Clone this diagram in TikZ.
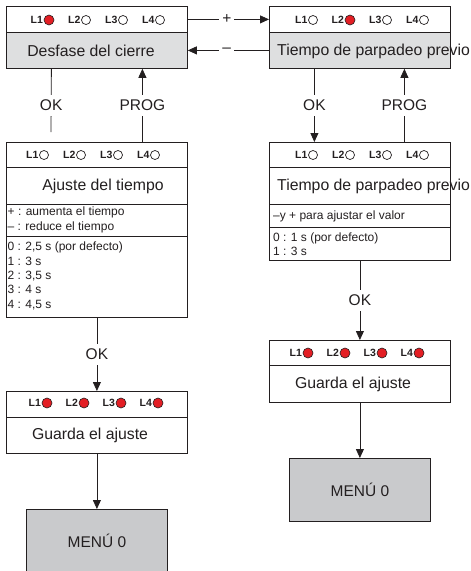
\documentclass[tikz,border=0pt]{standalone}
\usepackage{fontspec}
\setmainfont{Liberation Sans}
\usepackage{xcolor}
\usepackage{tikz}
\usetikzlibrary{arrows.meta}

\definecolor{ink}{HTML}{231F20}
\definecolor{paneg}{HTML}{DEDFE0}
\definecolor{menug}{HTML}{C9CACC}
\definecolor{ledred}{HTML}{E31E24}

\tikzset{
  panel/.style={draw=ink, line width=0.8pt, fill=white, inner sep=0pt,
    anchor=north west, minimum width=181pt},
  shaded/.style={panel, fill=paneg},
  menubox/.style={draw=ink, line width=0.8pt, fill=menug, anchor=north west,
    minimum width=141pt, minimum height=63pt, text=ink,
    font=\fontsize{15.5}{18}\selectfont},
  ledon/.style={circle, draw=ink, line width=0.6pt, fill=ledred, inner sep=0pt,
    minimum size=10pt},
  ledoff/.style={circle, draw=ink, line width=0.7pt, fill=white, inner sep=0pt,
    minimum size=9pt},
  ledtxt/.style={anchor=east, inner sep=0.6pt, text=ink,
    font=\bfseries\fontsize{10.5}{12}\selectfont},
  title/.style={text=ink, inner sep=0pt, font=\fontsize{15.8}{19}\selectfont},
  note/.style={anchor=west, align=left, inner sep=0pt, text=ink,
    font=\fontsize{12}{14.3}\selectfont},
  key/.style={fill=white, inner xsep=3pt, inner ysep=5pt, text=ink,
    font=\fontsize{15.5}{18}\selectfont},
  wire/.style={draw=ink, line width=0.8pt},
  flow/.style={wire, -{Triangle[length=9pt,width=8pt]}},
}

% row of four LEDs: name, first x, y, states
\newcommand{\ledbar}[4]{%
  \foreach \st [count=\i] in {#4}{
    \node[\st] (#1\i) at ({#2+37*(\i-1)},#3) {};
    \node[ledtxt] (#1t\i) at (#1\i.west) {L\i};
  }}

\begin{document}
\begin{tikzpicture}[x=1pt,y=-1pt]
  \useasboundingbox (0,0) rectangle (471,571);
  \clip (0,0) rectangle (471,571);

  % Desfase del cierre
  \node[panel, minimum height=26pt] (b1top) at (6,6) {};
  \node[shaded, minimum height=36pt] (b1bot) at (6,32) {};
  \node[title] (b1txt) at (91,51) {Desfase del cierre};
  \ledbar{la}{49}{20}{ledon,ledoff,ledoff,ledoff}

  % Tiempo de parpadeo previo
  \node[panel, minimum height=26pt] (b2top) at (269,6) {};
  \node[shaded, minimum height=36pt] (b2bot) at (269,32) {};
  \node[title, anchor=west] (b2txt) at (277,51) {Tiempo de parpadeo previo};
  \ledbar{lb}{313}{20}{ledoff,ledon,ledoff,ledoff}

  % Ajuste del tiempo
  \node[panel, minimum height=25pt] (b3top) at (6,142) {};
  \node[panel, minimum height=37pt] (b3mid) at (6,167) {};
  \node[panel, minimum height=32pt] (b3key) at (6,204) {};
  \node[panel, minimum height=81pt] (b3d) at (6,236) {};
  \node[title] (b3txt) at (103,186) {Ajuste del tiempo};
  \node[note] (b3n1) at (7.5,220) {+ : aumenta el tiempo\\-- : reduce el tiempo};
  \node[note] (b3n2) at (7.5,276) {0 : 2,5 s (por defecto)\\1 : 3 s\\2 : 3,5 s\\3 : 4 s\\4 : 4,5 s};
  \ledbar{lc}{44}{155}{ledoff,ledoff,ledoff,ledoff}

  % Tiempo de parpadeo previo, ajuste
  \node[panel, minimum height=25pt] (b4top) at (269,142) {};
  \node[panel, minimum height=37pt] (b4mid) at (269,167) {};
  \node[panel, minimum height=23pt] (b4key) at (269,204) {};
  \node[panel, minimum height=33pt] (b4d) at (269,227) {};
  \node[title, anchor=west] (b4txt) at (277,186) {Tiempo de parpadeo previo};
  \node[note] (b4n1) at (273,216) {--y + para ajustar el valor};
  \node[note] (b4n2) at (273,244.5) {0 : 1 s (por defecto)\\1 : 3 s};
  \ledbar{ld}{313}{155}{ledoff,ledoff,ledoff,ledoff}

  % Guarda el ajuste
  \node[panel, minimum height=26pt] (b5top) at (6,391) {};
  \node[panel, minimum height=36pt] (b5bot) at (6,417) {};
  \node[title] (b5txt) at (90,435) {Guarda el ajuste};
  \ledbar{le}{47}{403}{ledon,ledon,ledon,ledon}

  \node[panel, minimum height=25pt] (b6top) at (269,340) {};
  \node[panel, minimum height=37pt] (b6bot) at (269,365) {};
  \node[title] (b6txt) at (353,384) {Guarda el ajuste};
  \ledbar{lf}{308}{353}{ledon,ledon,ledon,ledon}

  % MENU 0
  \node[menubox] (menuA) at (26,509) {MENÚ 0};
  \node[menubox] (menuB) at (289,458) {MENÚ 0};

  % connectors
  \coordinate (okend) at (51,132);
  \draw[flow] (b1top.east) -- node[key, pos=.48] (plus) {+} (b2top.west);
  \draw[flow] (b2bot.west) -- node[key, pos=.52] (minus) {--} (b1bot.east);
  \draw[wire] ([xshift=-45.5pt]b1bot.south) -- node[key, pos=.58] (ok1) {OK} (okend);
  \draw[flow] ([xshift=45.5pt]b3top.north) -- node[key] (prog1) {PROG} ([xshift=45.5pt]b1bot.south);
  \draw[flow] ([xshift=-45.5pt]b2bot.south) -- node[key] (ok2) {OK} ([xshift=-45.5pt]b4top.north);
  \draw[flow] ([xshift=44.5pt]b4top.north) -- node[key] (prog2) {PROG} ([xshift=44.5pt]b2bot.south);
  \draw[flow] (b3d.south) -- node[key] (ok3) {OK} (b5top.north);
  \draw[flow] (b5bot.south) -- (menuA.north);
  \draw[flow] (b4d.south) -- node[key] (ok4) {OK} (b6top.north);
  \draw[flow] (b6bot.south) -- (menuB.north);
\end{tikzpicture}
\end{document}
